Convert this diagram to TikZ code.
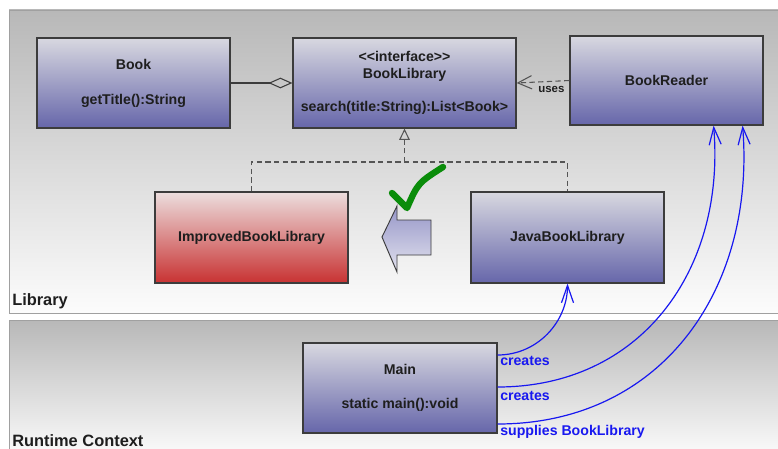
\documentclass[tikz,border=0pt]{standalone}
\usepackage{fontspec}
\setmainfont{Liberation Sans}
\usetikzlibrary{arrows.meta,calc}

\definecolor{classtop}{RGB}{216,216,224}
\definecolor{classbot}{RGB}{102,102,170}
\definecolor{redtop}{RGB}{236,222,222}
\definecolor{redbot}{RGB}{200,50,50}
\definecolor{edgegray}{RGB}{60,60,60}
\definecolor{dashgray}{RGB}{85,85,85}
\definecolor{linkblue}{RGB}{24,24,240}
\definecolor{tickgreen}{RGB}{10,140,10}
\definecolor{paneltop}{RGB}{184,184,184}
\definecolor{panelbot}{RGB}{252,252,252}
\definecolor{panelline}{RGB}{160,160,160}
\definecolor{arrowtop}{RGB}{150,150,200}
\definecolor{arrowbot}{RGB}{226,226,238}
\definecolor{inktext}{RGB}{30,30,30}

\begin{document}
\begin{tikzpicture}[x=0.75pt,y=-0.75pt,
  classbox/.style={draw=edgegray, line width=0.9pt, top color=classtop,
    bottom color=classbot, inner sep=0pt, align=center,
    font=\fontsize{10.6}{12.7}\selectfont\bfseries, text=inktext},
  redbox/.style={classbox, top color=redtop, bottom color=redbot},
  panel/.style={draw=panelline, line width=0.6pt, top color=paneltop,
    bottom color=panelbot},
  panellabel/.style={anchor=base west, inner sep=0pt, text=inktext,
    font=\fontsize{12.3}{14}\selectfont\bfseries},
  linklabel/.style={anchor=base west, inner sep=0pt, text=linkblue,
    font=\fontsize{10.6}{12}\selectfont\bfseries},
  dep/.style={dashgray, line width=0.8pt, dash pattern=on 4pt off 2.5pt},
  link/.style={linkblue, line width=0.9pt,
    -{Straight Barb[length=13pt,width=9pt,line width=0.9pt]}},
]
\useasboundingbox (0,0) rectangle (778,449);

% package panels
\path[panel] (9,10) rectangle (782,313);
\path[panel] (9,320) rectangle (782,458);
\node[panellabel] (libname) at (12,305) {Library};
\node[panellabel] (rtname) at (12,446.3) {Runtime Context};

% classes
\node[classbox, minimum width=144.75pt, minimum height=67.5pt] (book) at (133.5,83)
  {Book\\[13.5pt]getTitle():String};
\node[classbox, minimum width=167.25pt, minimum height=67.5pt] (lib) at (404.5,83)
  {<\kern0pt<interface>\kern0pt>\\BookLibrary\\[12pt]search(title:String):List<Book>};
\node[classbox, minimum width=144.75pt, minimum height=66.75pt] (reader) at (666.5,80.5)
  {BookReader};
\node[redbox, minimum width=144.75pt, minimum height=68.25pt] (improved) at (251.5,237.5)
  {ImprovedBookLibrary};
\node[classbox, minimum width=144.75pt, minimum height=68.25pt] (java) at (567.5,237.5)
  {JavaBookLibrary};
\node[classbox, minimum width=145.5pt, minimum height=67.5pt] (main) at (400,388)
  {Main\\[13pt]static main():void};

% aggregation
\draw[edgegray, line width=0.9pt,
  -{Diamond[open, length=18pt, width=8pt, line width=0.8pt]}] (book.east) -- (lib.west);

% dependency
\draw[dep, -{Straight Barb[length=10.5pt, width=10pt, line width=0.8pt]}]
  (reader.west) -- (lib.east);
\node[anchor=base west, inner sep=0pt, text=inktext,
  font=\fontsize{8.6}{10}\selectfont\bfseries] (useslbl) at (538,93) {uses};

% realizations
\coordinate (fork) at (404.5,162);
\draw[dep] (improved.north) |- (fork) -| (java.north);
\draw[dep, -{Triangle[open, length=8.5pt, width=8pt, line width=0.8pt]}] (fork) -- (lib.south);

% replacement hint
\draw[edgegray, line width=0.7pt, top color=arrowtop, bottom color=arrowbot]
  (382,237) -- (397,206) -- (397,220) -- (431,220) -- (431,255) -- (397,255)
  -- (397,272) -- cycle;
\draw[tickgreen, line width=4.8pt, line cap=round, line join=round]
  (392,193) -- (407,208) .. controls (418,183) .. (443,167);

% runtime wiring
\coordinate (m1) at ($(main.east)+(0,-33)$);
\coordinate (m2) at ($(main.east)+(0,-1)$);
\coordinate (m3) at ($(main.east)+(0,36)$);
\coordinate (r1) at ($(reader.south east)+(-50,0)$);
\coordinate (r2) at ($(reader.south east)+(-21,0)$);
\draw[link] (m1) .. controls +(40,0) and +(0,38) .. (java.south);
\draw[link] (m2) .. controls +(143,0) and +(12,145) .. (r1);
\draw[link] (m3) .. controls +(163,0) and +(13,165) .. (r2);
\node[linklabel] (lbl1) at (500,365.5) {creates};
\node[linklabel] (lbl2) at (500,400) {creates};
\node[linklabel] (lbl3) at (500,435) {supplies BookLibrary};
\end{tikzpicture}
\end{document}
